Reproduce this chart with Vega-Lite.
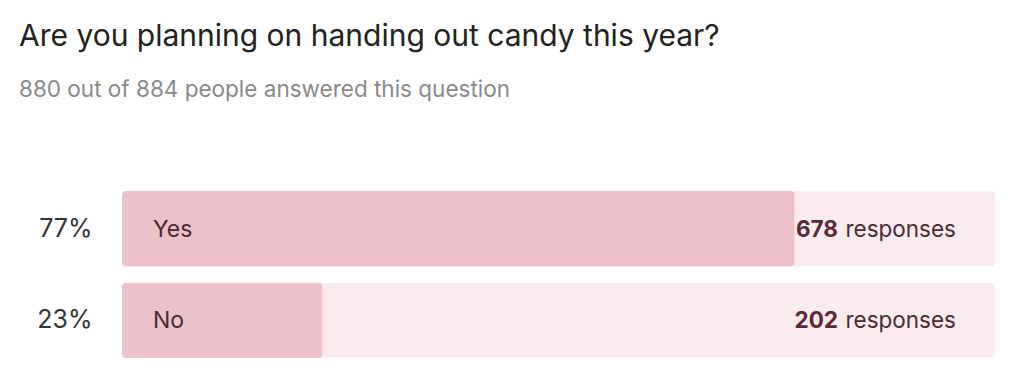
{
  "$schema": "https://vega.github.io/schema/vega-lite/v6.json",
  "autosize": {"type": "none"},
  "width": 873,
  "height": 167,
  "padding": {"left": 122, "top": 191, "right": 29, "bottom": 31},
  "background": "#ffffff",
  "title": {
    "text": "Are you planning on handing out candy this year?",
    "subtitle": "880 out of 884 people answered this question",
    "anchor": "start",
    "frame": "group",
    "dx": -103,
    "offset": 90,
    "font": "Inter",
    "fontSize": 30,
    "fontWeight": "normal",
    "color": "#222222",
    "subtitleFont": "Inter",
    "subtitleFontSize": 22.5,
    "subtitleColor": "#8a8a8a",
    "subtitlePadding": 27
  },
  "data": {
    "values": [
      {"answer": "Yes", "pct": "77%", "count": 678, "total": 880, "order": 1},
      {"answer": "No", "pct": "23%", "count": 202, "total": 880, "order": 2}
    ]
  },
  "encoding": {
    "y": {
      "field": "pct",
      "type": "nominal",
      "sort": {"field": "order"},
      "scale": {"paddingInner": 0.174, "paddingOuter": 0},
      "axis": {
        "title": null,
        "domain": false,
        "ticks": false,
        "labelPadding": 30,
        "labelFont": "Inter",
        "labelFontSize": 25,
        "labelColor": "#333333"
      }
    }
  },
  "layer": [
    {
      "mark": {"type": "bar", "color": "#f9ebee", "cornerRadius": 4},
      "encoding": {
        "x": {"field": "total", "type": "quantitative", "scale": {"domain": [0, 880], "nice": false, "zero": true}, "axis": null}
      }
    },
    {
      "mark": {"type": "bar", "color": "#ecc1c9", "cornerRadius": 4},
      "encoding": {
        "x": {"field": "count", "type": "quantitative"}
      }
    },
    {
      "mark": {"type": "text", "align": "left", "dx": 31, "dy": 1, "font": "Inter", "fontSize": 23, "color": "#4a2a33"},
      "encoding": {
        "x": {"datum": 0, "type": "quantitative"},
        "text": {"field": "answer"}
      }
    },
    {
      "mark": {"type": "text", "align": "right", "dx": -39, "dy": 1, "font": "Inter", "fontSize": 22.5, "color": "#4a2a33"},
      "encoding": {
        "x": {"field": "total", "type": "quantitative"},
        "text": {"value": "responses"}
      }
    },
    {
      "mark": {"type": "text", "align": "right", "dx": -157, "dy": 1, "font": "Inter", "fontSize": 22.5, "fontWeight": "bold", "color": "#5a2a3a"},
      "encoding": {
        "x": {"field": "total", "type": "quantitative"},
        "text": {"field": "count"}
      }
    }
  ],
  "config": {"view": {"stroke": null}}
}
